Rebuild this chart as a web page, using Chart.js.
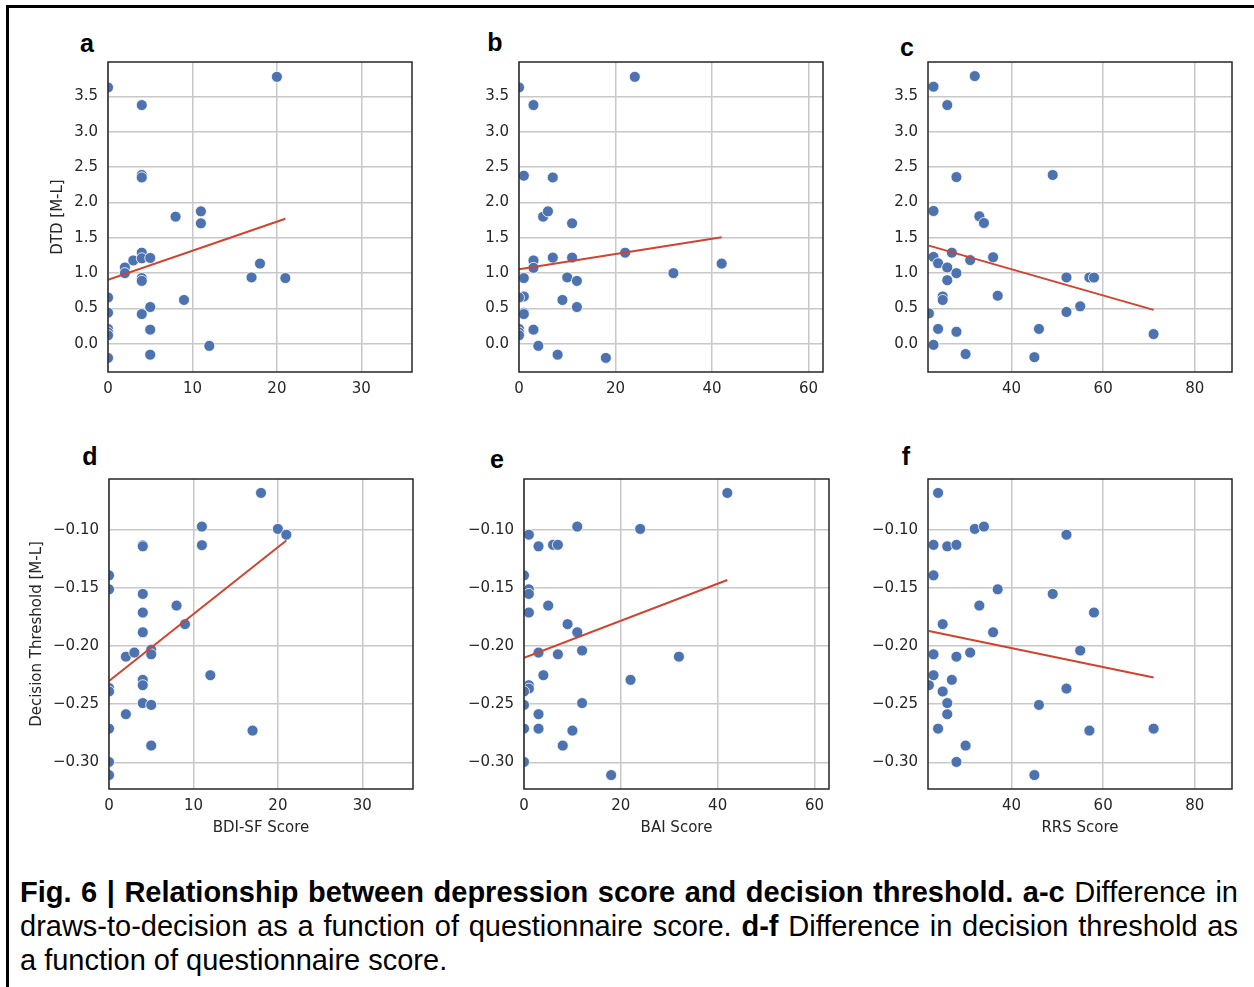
<!DOCTYPE html>
<html>
<head>
<meta charset="utf-8">
<script src="https://cdn.jsdelivr.net/npm/chart.js@4.4.0/dist/chart.umd.min.js"></script>
<style>
body{margin:0;background:#fff;width:1254px;height:987px;overflow:hidden;position:relative;font-family:"Liberation Sans",Arial,sans-serif}
.frame{position:absolute;left:6px;top:5px;width:1260px;height:1000px;border-top:3px solid #000;border-left:3px solid #000}
canvas{position:absolute}
.lbl{position:absolute;font:bold 25px "Liberation Sans",Arial,sans-serif;line-height:1;transform:translate(-50%,-50%)}
.cap{position:absolute;left:20px;width:1218px;font-size:29px;line-height:34px;color:#000}
.cap div{white-space:nowrap}
.just{text-align:justify;text-align-last:justify;white-space:normal !important}
</style>
</head>
<body>
<div class="frame"></div>

<div class="lbl" style="left:87px;top:43px">a</div>
<div class="lbl" style="left:495px;top:42px">b</div>
<div class="lbl" style="left:907px;top:47px">c</div>
<div class="lbl" style="left:90px;top:456px">d</div>
<div class="lbl" style="left:497px;top:459px">e</div>
<div class="lbl" style="left:906px;top:456px">f</div>

<canvas id="pa"></canvas>
<canvas id="pb"></canvas>
<canvas id="pc"></canvas>
<canvas id="pd"></canvas>
<canvas id="pe"></canvas>
<canvas id="pf"></canvas>

<div class="cap" style="top:875px">
  <div class="just"><b>Fig. 6 | Relationship between depression score and decision threshold. a-c</b> Difference in</div>
  <div class="just">draws-to-decision as a function of questionnaire score. <b>d-f</b> Difference in decision threshold as</div>
  <div>a function of questionnaire score.</div>
</div>

<script>
// --- data ---
// top row: DTD [M-L] against each questionnaire
const bdiA = [0,4,20,4,4,8,11,11,2,2,3,4,4,5,4,4,18,17,21,0,0,5,4,9,0,0,0,5,12,5,0];
const dtdA = [3.63,3.38,3.78,2.39,2.355,1.80,1.875,1.705,1.08,1.0,1.18,1.29,1.21,1.215,0.93,0.89,1.135,0.94,0.93,0.655,0.44,0.52,0.42,0.62,0.21,0.16,0.12,0.2,-0.03,-0.155,-0.2];

const baiB = [0,3,24,1,7,5,6,11,3,3,7,11,22,42,32,1,10,12,1,0,9,1,1,12,0,0,0,3,4,8,18];
const dtdB = [3.63,3.38,3.78,2.38,2.355,1.80,1.875,1.705,1.18,1.075,1.22,1.22,1.29,1.135,1.0,0.93,0.94,0.89,0.67,0.655,0.62,0.44,0.42,0.52,0.21,0.16,0.12,0.2,-0.03,-0.155,-0.2];

const rrsC = [23,26,32,28,49,23,33,34,23,24,27,26,28,31,36,26,52,57,58,25,25,37,22,52,55,24,28,46,71,23,30,45];
const dtdC = [3.64,3.38,3.79,2.36,2.39,1.88,1.805,1.71,1.23,1.14,1.29,1.08,1.0,1.185,1.225,0.90,0.94,0.94,0.937,0.67,0.62,0.68,0.43,0.45,0.53,0.21,0.17,0.21,0.137,-0.015,-0.146,-0.19];

// bottom row: decision threshold [M-L]
const bdiD = [18,11,20,21,4,4,11,0,0,4,8,4,9,4,2,3,5,5,12,4,4,0,0,4,5,2,0,17,5,0,0];
const thrD = [-0.068,-0.097,-0.099,-0.104,-0.113,-0.114,-0.113,-0.139,-0.151,-0.155,-0.165,-0.171,-0.181,-0.188,-0.209,-0.2055,-0.203,-0.207,-0.225,-0.229,-0.2336,-0.236,-0.239,-0.249,-0.2506,-0.2586,-0.271,-0.2727,-0.2856,-0.2997,-0.311];

const baiE = [42,11,24,1,3,6,7,0,1,1,5,1,9,11,3,7,12,32,4,22,1,1,0,0,12,3,0,3,10,8,0,18];
const thrE = [-0.068,-0.097,-0.099,-0.104,-0.114,-0.1127,-0.1127,-0.139,-0.151,-0.155,-0.165,-0.171,-0.181,-0.188,-0.2055,-0.207,-0.2037,-0.209,-0.225,-0.229,-0.2336,-0.2365,-0.239,-0.2506,-0.249,-0.2586,-0.271,-0.271,-0.2727,-0.2856,-0.2997,-0.311];

const rrsF = [24,32,34,52,23,26,28,23,37,49,33,58,25,36,23,28,31,55,23,27,22,25,52,26,46,26,24,57,71,30,28,45];
const thrF = [-0.068,-0.099,-0.097,-0.104,-0.1127,-0.114,-0.1127,-0.139,-0.151,-0.155,-0.165,-0.171,-0.181,-0.188,-0.207,-0.209,-0.2055,-0.2037,-0.225,-0.229,-0.2336,-0.239,-0.2365,-0.249,-0.2506,-0.2586,-0.271,-0.2727,-0.271,-0.2856,-0.2997,-0.311];

// regression line end points
const fitXA = [0,21],  fitYA = [0.905,1.77];
const fitXB = [0,42],  fitYB = [1.055,1.507];
const fitXC = [22,71], fitYC = [1.39,0.48];
const fitXD = [0,21],  fitYD = [-0.230,-0.109];
const fitXE = [0,42],  fitYE = [-0.210,-0.143];
const fitXF = [22,71], fitYF = [-0.187,-0.227];

// axis ranges and ticks
const rangeBdi = [0,36], rangeBai = [0,63], rangeRrs = [21.8,88.1];
const rangeDtd = [-0.40,3.99], rangeThr = [-0.323,-0.056];
const ticksBdi = [0,10,20,30];
const ticksBai = [0,20,40,60];
const ticksRrs = [40,60,80];
const ticksDtd = [0,0.5,1,1.5,2,2.5,3,3.5];
const ticksThr = [-0.30,-0.25,-0.20,-0.15,-0.10];

const pointBlue = '#4c72b0';
const fitRed = '#d2432f';
const inkCol = '#262626';
const gridCol = '#c8c8c8';

const frame = {
    id: 'frame',
    afterDatasetsDraw(chart) {
        const a = chart.chartArea, c = chart.ctx;
        c.save();
        c.strokeStyle = inkCol;
        c.lineWidth = 1.5;
        c.strokeRect(a.left, a.top, a.right - a.left, a.bottom - a.top);
        c.restore();
    }
};

function zip(xs, ys) {
    return xs.map((x, i) => ({x: x, y: ys[i]}));
}

function panel(id, box, xs, ys, fx, fy, xr, yr, xt, yt, yDec, xTitle, yTitle, yTitlePad) {
    const AX = 100, BX = 60, PT = 10, PR = 10;
    const cv = document.getElementById(id);
    cv.width = box.w + AX + PR;
    cv.height = box.h + PT + BX;
    cv.style.left = (box.x - AX) + 'px';
    cv.style.top = (box.y - PT) + 'px';

    const tickFont = {family: 'DejaVu Sans', size: 15};

    new Chart(cv, {
        type: 'scatter',
        data: {
            datasets: [
                {
                    type: 'line',
                    data: zip(fx, fy),
                    borderColor: fitRed,
                    borderWidth: 2,
                    pointRadius: 0,
                    fill: false,
                    clip: 0,
                    order: 0
                },
                {
                    data: zip(xs, ys),
                    backgroundColor: pointBlue,
                    borderColor: '#ffffff',
                    borderWidth: 0.8,
                    pointRadius: 5.5,
                    clip: 0,
                    order: 1
                }
            ]
        },
        options: {
            responsive: false,
            animation: false,
            events: [],
            layout: {padding: {top: PT, right: PR, left: 0, bottom: 0}},
            plugins: {legend: {display: false}, tooltip: {enabled: false}},
            scales: {
                x: {
                    type: 'linear',
                    min: xr[0], max: xr[1],
                    afterBuildTicks(s) { s.ticks = xt.map(v => ({value: v})); },
                    afterFit(s) { s.height = BX; s.paddingLeft = 0; s.paddingRight = 0; },
                    grid: {color: gridCol, lineWidth: 1.5, drawTicks: false},
                    border: {display: false},
                    ticks: {autoSkip: false, maxRotation: 0, padding: 8, color: inkCol, font: tickFont,
                        callback: v => String(v)},
                    title: {display: !!xTitle, text: xTitle || '', color: inkCol,
                        font: {family: 'DejaVu Sans', size: 15}, padding: {top: 0, bottom: 12}}
                },
                y: {
                    type: 'linear',
                    min: yr[0], max: yr[1],
                    afterBuildTicks(s) { s.ticks = yt.map(v => ({value: v})); },
                    afterFit(s) { s.width = AX; s.paddingTop = 0; s.paddingBottom = 0; },
                    grid: {color: gridCol, lineWidth: 1.5, drawTicks: false},
                    border: {display: false},
                    ticks: {autoSkip: false, padding: 10, color: inkCol, font: tickFont,
                        callback: v => v.toFixed(yDec).replace('-', '\u2212')},
                    title: {display: !!yTitle, text: yTitle || '', color: inkCol,
                        font: {family: 'DejaVu Sans', size: 15}, padding: {top: yTitlePad || 0, bottom: 0}}
                }
            }
        },
        plugins: [frame]
    });
}

panel('pa', {x:108, y:62,  w:304, h:310}, bdiA, dtdA, fitXA, fitYA, rangeBdi, rangeDtd, ticksBdi, ticksDtd, 1, null, 'DTD [M-L]', 41);
panel('pb', {x:519, y:62,  w:304, h:310}, baiB, dtdB, fitXB, fitYB, rangeBai, rangeDtd, ticksBai, ticksDtd, 1, null, null);
panel('pc', {x:928, y:62,  w:304, h:310}, rrsC, dtdC, fitXC, fitYC, rangeRrs, rangeDtd, ticksRrs, ticksDtd, 1, null, null);
panel('pd', {x:109, y:479, w:304, h:310}, bdiD, thrD, fitXD, fitYD, rangeBdi, rangeThr, ticksBdi, ticksThr, 2, 'BDI-SF Score', 'Decision Threshold [M-L]', 19);
panel('pe', {x:524, y:479, w:305, h:310}, baiE, thrE, fitXE, fitYE, rangeBai, rangeThr, ticksBai, ticksThr, 2, 'BAI Score', null);
panel('pf', {x:928, y:479, w:304, h:310}, rrsF, thrF, fitXF, fitYF, rangeRrs, rangeThr, ticksRrs, ticksThr, 2, 'RRS Score', null);
</script>
</body>
</html>
